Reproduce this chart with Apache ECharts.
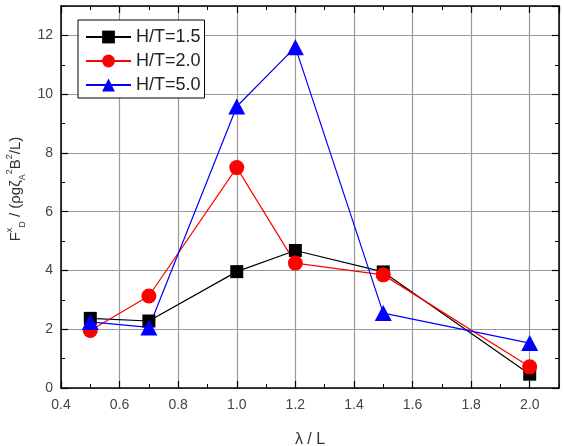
<!DOCTYPE html>
<html>
<head>
<meta charset="utf-8">
<script src="https://cdn.jsdelivr.net/npm/echarts@6/dist/echarts.min.js"></script>
<style>
  html, body { margin: 0; padding: 0; background: #fff; }
  #main { width: 564px; height: 446px; }
</style>
</head>
<body>
<div id="main"></div>
<script>
// values
const lambdaL = [0.5, 0.7, 1.0, 1.2, 1.5, 2.0]
const ht15 = [2.37, 2.28, 3.96, 4.68, 3.95, 0.47]
const ht20 = [1.96, 3.13, 7.5, 4.25, 3.85, 0.72]
const ht50 = [2.25, 2.06, 9.58, 11.6, 2.55, 1.53]
const seriesNames = ['H/T=1.5', 'H/T=2.0', 'H/T=5.0']

const font = 'Liberation Sans, Arial, sans-serif'

const pairs = (ys) => lambdaL.map((x, i) => [x, ys[i]])

// one major axis (labels, long ticks, grid lines) + one minor axis (short ticks) per side
function xAxisPair(position, labels) {
  return [
    {
      type: 'value', position: position, min: 0.4, max: 2.1, interval: 0.2,
      name: labels ? 'λ / L' : '', nameLocation: 'middle', nameGap: 44,
      nameTextStyle: { fontFamily: font, fontSize: 16, color: '#333' },
      axisLine: { show: true, onZero: false, lineStyle: { color: '#000', width: 1.5 } },
      axisTick: { show: true, inside: true, length: 7, lineStyle: { color: '#000', width: 1.2 } },
      axisLabel: {
        show: labels, margin: 10, showMaxLabel: false, fontFamily: font, fontSize: 14, color: '#444',
        formatter: (v) => v.toFixed(1)
      },
      splitLine: { show: labels, lineStyle: { color: '#999', width: 1.2 } }
    },
    {
      type: 'value', position: position, min: 0.4, max: 2.1, interval: 0.1,
      axisLine: { show: false, onZero: false },
      axisTick: { show: true, inside: true, length: 4, lineStyle: { color: '#000', width: 1 } },
      axisLabel: { show: false },
      splitLine: { show: false }
    }
  ]
}

function yAxisPair(position, labels) {
  return [
    {
      type: 'value', position: position, min: 0, max: 13, interval: 2,
      axisLine: { show: true, onZero: false, lineStyle: { color: '#000', width: 1.5 } },
      axisTick: { show: true, inside: true, length: 7, lineStyle: { color: '#000', width: 1.2 } },
      axisLabel: { show: labels, margin: 8, showMaxLabel: false, fontFamily: font, fontSize: 14, color: '#444' },
      splitLine: { show: labels, lineStyle: { color: '#999', width: 1.2 } }
    },
    {
      type: 'value', position: position, min: 0, max: 13, interval: 1,
      axisLine: { show: false, onZero: false },
      axisTick: { show: true, inside: true, length: 4, lineStyle: { color: '#000', width: 1 } },
      axisLabel: { show: false },
      splitLine: { show: false }
    }
  ]
}

const chart = echarts.init(document.getElementById('main'))
chart.setOption({
  backgroundColor: '#fff',
  animation: false,
  grid: { left: 61, right: 5, top: 6, bottom: 58, outerBoundsMode: 'none' },
  xAxis: [...xAxisPair('bottom', true), ...xAxisPair('top', false)],
  yAxis: [...yAxisPair('left', true), ...yAxisPair('right', false)],
  // y axis title with sub/superscripts
  graphic: [{
    type: 'text', x: 16, y: 189, rotation: Math.PI / 2,
    style: {
      text: '{a|F}{s|x}{b|D}{a| / (ρgζ}{b|A}{s|2}{a|B}{s|2}{a|/L)}',
      align: 'center', verticalAlign: 'middle',
      rich: {
        a: { fontFamily: font, fontSize: 15, lineHeight: 22, fill: '#333' },
        s: { fontFamily: font, fontSize: 9, lineHeight: 11, verticalAlign: 'top', fill: '#333' },
        b: { fontFamily: font, fontSize: 9, lineHeight: 11, verticalAlign: 'bottom', fill: '#333' }
      }
    }
  }],
  legend: {
    orient: 'vertical', left: 78, top: 20,
    padding: [8, 4, 4, 7], itemGap: 6, itemWidth: 45, itemHeight: 16,
    backgroundColor: '#fff', borderColor: '#000', borderWidth: 1, borderRadius: 0,
    textStyle: { fontFamily: font, fontSize: 18, color: '#222' },
    data: seriesNames
  },
  series: [
    {
      name: seriesNames[0], type: 'line', data: pairs(ht15),
      symbol: 'rect', symbolSize: 13,
      lineStyle: { color: '#000', width: 1.2 }, itemStyle: { color: '#000' }
    },
    {
      name: seriesNames[1], type: 'line', data: pairs(ht20),
      symbol: 'circle', symbolSize: 15,
      lineStyle: { color: '#ff0000', width: 1.2 }, itemStyle: { color: '#ff0000' }
    },
    {
      name: seriesNames[2], type: 'line', data: pairs(ht50),
      symbol: 'triangle', symbolSize: [17, 16],
      lineStyle: { color: '#0000ff', width: 1.2 }, itemStyle: { color: '#0000ff' }
    }
  ]
})
</script>
</body>
</html>
